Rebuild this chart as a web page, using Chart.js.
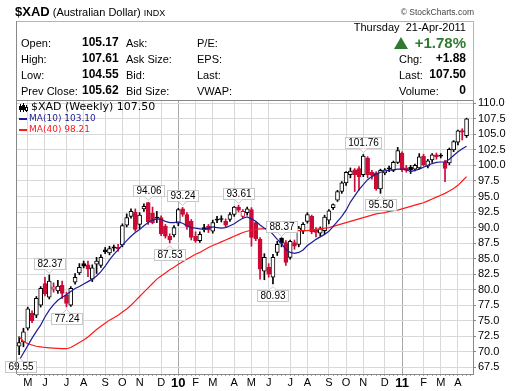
<!DOCTYPE html>
<html>
<head>
<meta charset="utf-8">
<script src="https://cdn.jsdelivr.net/npm/chart.js@4.4.1/dist/chart.umd.min.js"></script>
<style>
  html, body { margin: 0; padding: 0; background: #fff; }
  #wrap { position: relative; width: 520px; height: 391px; overflow: hidden; font-family: "Liberation Sans", Arial, sans-serif; color: #000; }
  #chart { position: absolute; left: 0; top: 0; }
  .t { position: absolute; white-space: nowrap; font-size: 11px; line-height: 15px; }
  .b { font-weight: bold; font-size: 12px; }
  .lg { position: absolute; white-space: nowrap; font-family: "DejaVu Sans", sans-serif; }
</style>
</head>
<body>
<div id="wrap">
  <canvas id="chart" width="520" height="391"></canvas>

  <div class="t" style="left:15px; top:4px;"><span style="font-weight:bold; font-size:13px;">$XAD</span> (Australian Dollar) <span style="font-size:9px;">INDX</span></div>
  <div class="t" style="right:46px; top:5px; font-size:8.5px; color:#444;">&copy; StockCharts.com</div>

  <div class="t" style="right:54px; top:20px;">Thursday&nbsp; 21-Apr-2011</div>
  <div style="position:absolute; left:394px; top:37px; width:0; height:0; border-left:7.5px solid transparent; border-right:7.5px solid transparent; border-bottom:12px solid #2f7a2f;"></div>
  <div class="t" style="right:54px; top:34px; font-size:15px; font-weight:bold; color:#2f7a2f; line-height:18px;">+1.78%</div>

  <div class="t" style="left:21px; top:36px;">Open:</div>
  <div class="t" style="left:21px; top:52px;">High:</div>
  <div class="t" style="left:21px; top:68px;">Low:</div>
  <div class="t" style="left:21px; top:84px;">Prev Close:</div>

  <div class="t b" style="left:82px; top:35px;">105.17</div>
  <div class="t b" style="left:82px; top:51px;">107.61</div>
  <div class="t b" style="left:82px; top:67px;">104.55</div>
  <div class="t b" style="left:82px; top:83px;">105.62</div>

  <div class="t" style="left:126px; top:36px;">Ask:</div>
  <div class="t" style="left:126px; top:52px;">Ask Size:</div>
  <div class="t" style="left:126px; top:68px;">Bid:</div>
  <div class="t" style="left:126px; top:84px;">Bid Size:</div>

  <div class="t" style="left:197px; top:36px;">P/E:</div>
  <div class="t" style="left:197px; top:52px;">EPS:</div>
  <div class="t" style="left:197px; top:68px;">Last:</div>
  <div class="t" style="left:197px; top:84px;">VWAP:</div>

  <div class="t" style="left:399px; top:52px;">Chg:</div>
  <div class="t" style="left:399px; top:68px;">Last:</div>
  <div class="t" style="left:399px; top:84px;">Volume:</div>
  <div class="t b" style="right:54px; top:51px;">+1.88</div>
  <div class="t b" style="right:54px; top:67px;">107.50</div>
  <div class="t b" style="right:54px; top:83px;">0</div>

  <svg style="position:absolute; left:19px; top:103px;" width="11" height="10">
    <path d="M1.5 1v8M4.5 0v9M7.5 2v7" stroke="#000" stroke-width="1"/>
    <rect x="0" y="3" width="3" height="4" fill="#000"/>
    <rect x="3" y="2" width="3" height="5" fill="#000"/>
    <rect x="6.5" y="4.5" width="2" height="3" fill="#fff" stroke="#000" stroke-width="1"/>
  </svg>
  <div class="lg" style="left:31px; top:100px; font-size:11px; line-height:14px;">$XAD (Weekly) 107.50</div>
  <div style="position:absolute; left:19px; top:118px; width:8px; height:2px; background:#1c1c96;"></div>
  <div class="lg" style="left:29px; top:112px; font-size:9px; line-height:13px; color:#1c1c96;">MA(10) 103.10</div>
  <div style="position:absolute; left:19px; top:129px; width:8px; height:2px; background:#ff1a1a;"></div>
  <div class="lg" style="left:29px; top:123px; font-size:9px; line-height:13px; color:#ff1a1a;">MA(40) 98.21</div>
</div>

<script>
// weekly candles, Apr-2009 .. Apr-2011
const opens = [70.9, 71.6, 73.8, 76.2, 75.9, 77.5, 81.0, 78.8, 80.1, 79.8,
    80.7, 79.1, 77.5, 81.2, 82.7, 84.2, 84.0, 81.7, 84.1, 83.9,
    86.4, 85.9, 86.9, 86.8, 87.2, 90.4, 91.8, 92.5, 90.5, 93.0,
    94.0, 92.3, 91.7, 91.6, 90.2, 88.6, 88.8, 90.7, 93.0, 92.1,
    91.0, 88.6, 87.9, 90.0, 90.2, 89.4, 91.3, 91.4, 91.0, 91.3,
    92.1, 93.3, 91.8, 92.4, 92.9, 90.8, 88.1, 83.0, 83.6, 82.0,
    86.0, 88.3, 87.6, 85.2, 87.6, 87.3, 89.4, 91.0, 91.8, 89.6,
    89.1, 89.5, 91.2, 93.2, 94.4, 95.8, 97.2, 98.5, 99.3, 99.5,
    98.5, 101.2, 98.9, 98.8, 96.2, 98.8, 99.6, 99.2, 100.5, 102.0,
    99.6, 99.7, 99.4, 99.6, 101.45, 99.9, 100.9, 101.7, 101.6, 100.5,
    100.4, 102.5, 103.75, 105.6, 104.8];
const highs = [72.4, 73.8, 77.2, 76.6, 78.9, 80.5, 82.0, 82.37, 81.1, 81.5,
    81.4, 79.6, 80.5, 82.6, 84.2, 84.6, 84.6, 84.0, 85.2, 85.6,
    86.8, 87.0, 87.2, 87.3, 90.6, 92.2, 93.0, 93.0, 92.4, 93.8,
    94.06, 93.3, 92.6, 91.9, 90.5, 89.0, 90.3, 93.1, 93.24, 92.4,
    91.3, 89.3, 89.3, 90.5, 90.5, 91.2, 91.8, 91.9, 91.4, 92.4,
    93.4, 93.61, 92.9, 93.3, 93.2, 91.0, 88.4, 85.8, 84.2, 85.7,
    87.8, 88.37, 87.9, 88.0, 88.0, 90.2, 90.8, 92.4, 92.0, 90.0,
    90.1, 92.0, 92.9, 93.8, 96.0, 97.4, 99.0, 99.6, 99.5, 99.8,
    101.76, 101.4, 99.2, 99.0, 99.4, 99.5, 99.9, 100.7, 102.9, 102.2,
    100.0, 100.0, 100.2, 101.9, 101.8, 101.0, 101.9, 102.0, 101.9, 100.8,
    102.8, 104.0, 105.7, 105.9, 107.61];
const lows = [69.55, 70.8, 73.5, 74.7, 75.5, 77.2, 79.0, 78.5, 79.6, 79.4,
    78.6, 77.24, 77.3, 80.9, 82.4, 83.5, 82.1, 81.3, 82.6, 83.6,
    85.8, 85.6, 86.2, 86.2, 86.9, 90.1, 91.5, 89.4, 89.8, 92.6,
    90.5, 90.6, 90.8, 88.7, 88.3, 87.53, 88.5, 90.3, 91.8, 89.7,
    88.0, 87.6, 87.6, 89.3, 89.2, 89.1, 90.8, 90.9, 90.1, 91.0,
    91.8, 92.5, 91.5, 92.0, 87.0, 87.9, 81.7, 81.6, 82.0, 80.93,
    85.5, 86.9, 83.9, 84.9, 86.5, 86.9, 89.0, 90.7, 89.0, 88.5,
    88.6, 89.0, 90.6, 92.9, 94.2, 95.5, 96.8, 98.0, 95.8, 96.0,
    98.2, 98.0, 97.8, 96.0, 95.50, 98.5, 99.0, 99.0, 100.3, 99.0,
    98.9, 98.7, 99.1, 99.4, 99.9, 99.6, 100.5, 101.0, 101.2, 97.4,
    100.1, 102.2, 103.3, 104.1, 104.5];
const closes = [71.5, 73.2, 76.9, 75.0, 78.6, 80.2, 79.3, 81.4, 80.45, 80.6,
    79.4, 77.8, 80.2, 82.0, 83.6, 83.8, 83.3, 83.5, 84.6, 85.2,
    86.1, 86.6, 86.7, 86.6, 90.3, 91.6, 92.6, 89.7, 92.0, 93.4,
    90.9, 90.8, 91.5, 89.0, 88.6, 88.0, 90.0, 92.9, 92.1, 90.2,
    88.4, 87.9, 88.9, 89.7, 89.6, 90.8, 91.2, 91.3, 90.4, 92.1,
    93.3, 92.8, 92.6, 93.0, 88.4, 88.2, 83.3, 85.2, 82.5, 85.2,
    87.3, 87.5, 84.4, 87.8, 87.0, 89.9, 90.5, 92.1, 89.3, 89.2,
    89.8, 91.7, 92.7, 93.7, 95.8, 97.2, 98.9, 99.1, 98.5, 98.2,
    101.5, 98.5, 98.4, 96.2, 99.2, 99.3, 99.4, 100.5, 102.4, 99.3,
    99.2, 99.3, 100.0, 101.4, 100.1, 100.75, 101.7, 101.35, 101.5, 99.5,
    102.6, 103.85, 105.55, 105.35, 107.5];

const ma10 = [68.6, 69.8, 71.0, 72.2, 73.3, 74.3, 75.6, 76.7, 77.6, 78.3,
    78.8, 79.2, 79.7, 80.2, 80.5, 80.9, 81.3, 81.7, 82.2, 82.9,
    83.8, 84.8, 85.7, 86.4, 87.2, 87.9, 88.6, 89.2, 89.7, 90.3,
    90.8, 91.2, 91.4, 91.3, 91.0, 90.8, 90.8, 90.9, 90.7, 90.3,
    90.0, 89.9, 89.8, 89.7, 89.9, 90.1, 90.0, 89.9, 90.0, 90.3,
    90.6, 91.1, 91.5, 91.7, 91.4, 91.0, 90.4, 89.9, 89.6, 88.9,
    88.1, 87.4, 86.5, 86.0, 85.85, 86.0, 86.4, 87.1, 87.6, 88.1,
    88.5, 88.9, 89.4, 90.2, 91.0, 91.8, 92.8, 94.1, 95.1, 96.1,
    96.9, 97.7, 98.2, 98.6, 98.9, 99.1, 99.2, 99.3, 99.4, 99.4,
    99.3, 99.0, 99.2, 99.4, 99.7, 100.0, 100.3, 100.5, 100.55, 100.55,
    101.0, 101.6, 102.2, 102.7, 103.1];
const ma40 = [72.4, 71.7, 71.3, 71.1, 70.9, 70.8, 70.7, 70.65, 70.6, 70.55,
    70.5, 70.5, 70.7, 71.1, 71.5, 71.9, 72.4, 73.0, 73.6, 74.1,
    74.6, 75.1, 75.5, 75.9, 76.4, 76.9, 77.5, 78.2, 78.9, 79.6,
    80.3, 81.0, 81.7, 82.2, 82.7, 83.2, 83.6, 84.1, 84.5, 84.9,
    85.3, 85.7, 86.0, 86.4, 86.8, 87.1, 87.4, 87.7, 88.0, 88.3,
    88.6, 88.9, 89.2, 89.4, 89.6, 89.7, 89.8, 89.8, 89.8, 89.8,
    89.8, 89.8, 89.7, 89.6, 89.6, 89.5, 89.5, 89.5, 89.6, 89.7,
    89.8, 89.9, 90.0, 90.2, 90.4, 90.6, 90.8, 91.0, 91.2, 91.4,
    91.6, 91.8, 92.0, 92.2, 92.3, 92.4, 92.6, 92.7, 92.8, 93.0,
    93.2, 93.4, 93.6, 93.8, 94.0, 94.3, 94.6, 94.9, 95.2, 95.5,
    95.9, 96.3, 96.8, 97.5, 98.21];

// x axis: week index of each month start and its label
const monthIdx = [2, 6, 11, 15, 20, 24, 28, 33, 37, 41, 45, 50, 54, 58, 63, 67, 72, 76, 80, 85, 89, 94, 98, 102];
const monthTxt = ['M', 'J', 'J', 'A', 'S', 'O', 'N', 'D', '10', 'F', 'M', 'A', 'M', 'J', 'J', 'A', 'S', 'O', 'N', 'D', '11', 'F', 'M', 'A'];
const yearIdx = [37, 89];
const yTicks = [67.5, 70, 72.5, 75, 77.5, 80, 82.5, 85, 87.5, 90, 92.5, 95, 97.5, 100, 102.5, 105, 107.5, 110];

// price flags
const annIdx = [0, 7, 11, 30, 35, 38, 51, 59, 61, 80, 84];
const annVal = [69.55, 82.37, 77.24, 94.06, 87.53, 93.24, 93.61, 80.93, 88.37, 101.76, 95.50];
const annUp = [false, true, false, true, false, true, true, false, true, true, false];

const RED = '#cc0a36';
const BLK = '#000000';

let weeks = [];
for (let i = 0; i <= closes.length; i++) weeks.push(i);

let lineColor = [];
let bodyFill = [];
closes.forEach((c, i) => {
    let col = (i > 0 && c < closes[i - 1]) ? RED : BLK;
    lineColor.push(col);
    bodyFill.push(c < opens[i] ? col : '#ffffff');
});

let framePlugin = {
    id: 'frame',
    afterDraw(chart) {
        let ctx = chart.ctx;
        let a = chart.chartArea;
        ctx.save();
        ctx.lineWidth = 1;
        ctx.strokeStyle = '#b4b4b4';
        ctx.strokeRect(16.5, 21.5, 457, 79);
        ctx.strokeStyle = '#888';
        ctx.beginPath();
        ctx.moveTo(16.5, a.top + 0.5);
        ctx.lineTo(Math.round(a.right) + 0.5, a.top + 0.5);
        ctx.moveTo(16.5, 21);
        ctx.lineTo(16.5, a.bottom);
        ctx.stroke();
        ctx.restore();
    }
};

let flagPlugin = {
    id: 'flags',
    afterDatasetsDraw(chart) {
        let ctx = chart.ctx;
        let xs = chart.scales.x;
        let ys = chart.scales.y;
        let a = chart.chartArea;
        ctx.save();
        ctx.font = '10px "Liberation Sans", Arial, sans-serif';
        ctx.textAlign = 'center';
        ctx.textBaseline = 'middle';
        annIdx.forEach((idx, k) => {
            let txt = annVal[k].toFixed(2);
            let x = xs.getPixelForValue(idx);
            let y = ys.getPixelForValue(annVal[k]);
            let w = Math.ceil(ctx.measureText(txt).width) + 5;
            let h = 11;
            let bx = Math.round(Math.max(a.left - 12, x - w / 2)) + 0.5;
            let by = annUp[k] ? Math.round(y - 6 - h) + 0.5 : Math.round(y + 6) + 0.5;
            ctx.fillStyle = '#fff';
            ctx.fillRect(bx, by, w, h);
            ctx.strokeStyle = '#c8c8c8';
            ctx.strokeRect(bx, by, w, h);
            ctx.beginPath();
            if (annUp[k]) {
                ctx.moveTo(x - 4, by + h);
                ctx.lineTo(x, by + h + 4);
                ctx.lineTo(x + 4, by + h);
            } else {
                ctx.moveTo(x - 4, by);
                ctx.lineTo(x, by - 4);
                ctx.lineTo(x + 4, by);
            }
            ctx.fill();
            ctx.stroke();
            ctx.fillStyle = '#000';
            ctx.fillText(txt, bx + w / 2, by + h / 2 + 0.5);
        });
        ctx.restore();
    }
};

let chart = new Chart(document.getElementById('chart'), {
    type: 'bar',
    data: {
        labels: weeks,
        datasets: [
            {
                type: 'line',
                label: 'MA(10)',
                data: ma10,
                borderColor: '#1c1c96',
                borderWidth: 1.2,
                pointRadius: 0,
                order: 0
            },
            {
                type: 'line',
                label: 'MA(40)',
                data: ma40,
                borderColor: '#ff1a1a',
                borderWidth: 1.2,
                pointRadius: 0,
                order: 1
            },
            {
                label: 'body',
                data: opens.map((o, i) => [o, closes[i]]),
                backgroundColor: bodyFill,
                borderColor: lineColor,
                borderWidth: 1,
                borderSkipped: false,
                barThickness: 4,
                minBarLength: 1,
                grouped: false,
                order: 2
            },
            {
                label: 'wick',
                data: lows.map((l, i) => [l, highs[i]]),
                backgroundColor: lineColor,
                barThickness: 1,
                grouped: false,
                order: 3
            }
        ]
    },
    options: {
        responsive: false,
        animation: false,
        devicePixelRatio: 1,
        layout: { padding: { top: 100, left: 17, right: 0, bottom: 0 } },
        plugins: {
            legend: { display: false },
            tooltip: { enabled: false }
        },
        scales: {
            x: {
                offset: true,
                afterFit: s => { s.height = 17; },
                border: { color: '#888' },
                grid: {
                    offset: false,
                    tickLength: 2,
                    tickColor: '#aaa',
                    color: ctx => {
                        if (yearIdx.includes(ctx.index)) return '#a8a8a8';
                        return monthIdx.includes(ctx.index) ? '#d8d8d8' : 'rgba(0,0,0,0)';
                    }
                },
                ticks: {
                    autoSkip: false,
                    maxRotation: 0,
                    padding: 0,
                    color: '#000',
                    callback: (v, i) => {
                        let k = monthIdx.indexOf(i);
                        return k < 0 ? '' : monthTxt[k];
                    },
                    font: ctx => yearIdx.includes(ctx.index)
                        ? { family: '"Liberation Sans", Arial, sans-serif', size: 13, weight: 'bold' }
                        : { family: '"Liberation Sans", Arial, sans-serif', size: 11 }
                }
            },
            y: {
                position: 'right',
                min: 66.43,
                max: 110.53,
                afterBuildTicks: s => { s.ticks = yTicks.map(v => ({ value: v })); },
                afterFit: s => { s.width = 47; },
                border: { color: '#888' },
                grid: { color: '#d8d8d8', tickLength: 3, tickColor: '#888' },
                ticks: {
                    autoSkip: false,
                    padding: 2,
                    color: '#000',
                    font: { family: '"Liberation Sans", Arial, sans-serif', size: 11 },
                    callback: v => Number(v).toFixed(1)
                }
            }
        }
    },
    plugins: [framePlugin, flagPlugin]
});
</script>
</body>
</html>
